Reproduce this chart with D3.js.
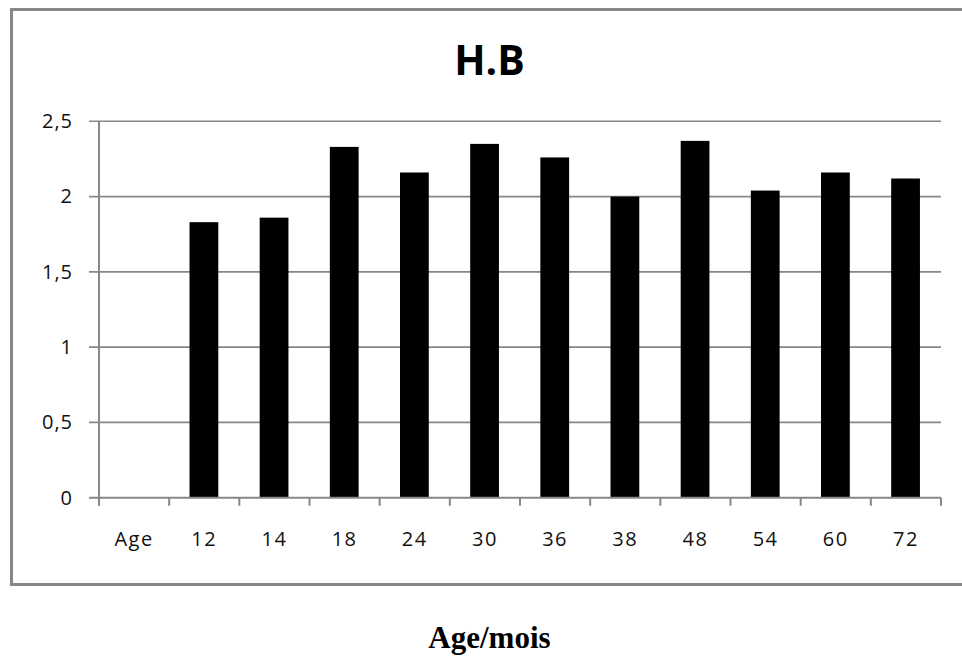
<!DOCTYPE html>
<html>
<head>
<meta charset="utf-8">
<script src="https://cdn.jsdelivr.net/npm/d3@7"></script>
<style>
  html, body { margin: 0; padding: 0; background: #fff; }
  svg { display: block; }
</style>
</head>
<body>
<svg id="chart" width="962" height="657"></svg>
<script>
// H.B by age (months)
const categories = ["Age", "12", "14", "18", "24", "30", "36", "38", "48", "54", "60", "72"];
const values = [null, 1.83, 1.86, 2.33, 2.16, 2.35, 2.26, 2.00, 2.37, 2.04, 2.16, 2.12];
const yTicks = [0, 0.5, 1, 1.5, 2, 2.5];
const title = "H.B";
const xTitle = "Age/mois";

const svg = d3.select("#chart");
const grey = "#878787";
const labelFont = "'Open Sans', 'Noto Sans', sans-serif";

// Chart frame
svg.append("rect")
  .attr("x", 11.5).attr("y", 9.5)
  .attr("width", 980).attr("height", 575)
  .attr("fill", "none").attr("stroke", grey).attr("stroke-width", 3);

const plot = { left: 99, right: 941, top: 121.3, bottom: 497.7 };

const x = d3.scaleBand().domain(categories).range([plot.left, plot.right]).padding(0);
const y = d3.scaleLinear().domain([0, 2.5]).range([plot.bottom, plot.top]);

const locale = d3.formatLocale({ decimal: ",", thousands: " ", grouping: [3], currency: ["", " €"] });
const fmt = locale.format("~g");

// Horizontal gridlines with left tick stubs
svg.append("g").selectAll("line").data(yTicks.filter(d => d > 0)).join("line")
  .attr("x1", plot.left - 10).attr("x2", plot.right)
  .attr("y1", d => y(d)).attr("y2", d => y(d))
  .attr("stroke", grey).attr("stroke-width", 1.6);

// Y axis labels
const yAxis = d3.axisLeft(y).tickValues(yTicks).tickFormat(fmt).tickSize(0).tickPadding(26);
const gy = svg.append("g").attr("transform", `translate(${plot.left},0)`).call(yAxis);
gy.select(".domain").remove();
gy.selectAll("text")
  .attr("font-family", labelFont).attr("font-size", 20).attr("fill", "#111")
  .attr("letter-spacing", 1);

// Bars
svg.append("g").selectAll("rect")
  .data(categories.map((c, i) => ({ c, v: values[i] })).filter(d => d.v != null))
  .join("rect")
  .attr("x", d => x(d.c) + x.bandwidth() * 0.29)
  .attr("width", x.bandwidth() * 0.41)
  .attr("y", d => y(d.v))
  .attr("height", d => y(0) - y(d.v))
  .attr("fill", "#000");

// Y axis line
svg.append("line")
  .attr("x1", plot.left).attr("x2", plot.left)
  .attr("y1", plot.top).attr("y2", plot.bottom + 8)
  .attr("stroke", grey).attr("stroke-width", 2);

// X axis line with category boundary ticks
svg.append("line")
  .attr("x1", plot.left - 10).attr("x2", plot.right)
  .attr("y1", plot.bottom).attr("y2", plot.bottom)
  .attr("stroke", grey).attr("stroke-width", 2);
const boundaries = categories.map(c => x(c)).concat([plot.right]);
svg.append("g").selectAll("line").data(boundaries).join("line")
  .attr("x1", d => d).attr("x2", d => d)
  .attr("y1", plot.bottom).attr("y2", plot.bottom + 8)
  .attr("stroke", grey).attr("stroke-width", 2);

// X axis labels
const xAxis = d3.axisBottom(x).tickSize(0).tickPadding(34);
const gx = svg.append("g").attr("transform", `translate(0,${plot.bottom})`).call(xAxis);
gx.select(".domain").remove();
gx.selectAll("text")
  .attr("font-family", labelFont).attr("font-size", 20).attr("fill", "#111")
  .attr("letter-spacing", 1.5);

// Title
svg.append("text")
  .attr("x", 489.5).attr("y", 75)
  .attr("text-anchor", "middle")
  .attr("font-family", "'Open Sans', 'Liberation Sans', sans-serif")
  .attr("font-weight", "bold").attr("font-size", 41)
  .attr("fill", "#000")
  .text(title);

// Axis title below the frame
svg.append("text")
  .attr("x", 489.5).attr("y", 648)
  .attr("text-anchor", "middle")
  .attr("font-family", "'Liberation Serif', 'Times New Roman', serif")
  .attr("font-weight", "bold").attr("font-size", 31)
  .attr("fill", "#000")
  .text(xTitle);
</script>
</body>
</html>
